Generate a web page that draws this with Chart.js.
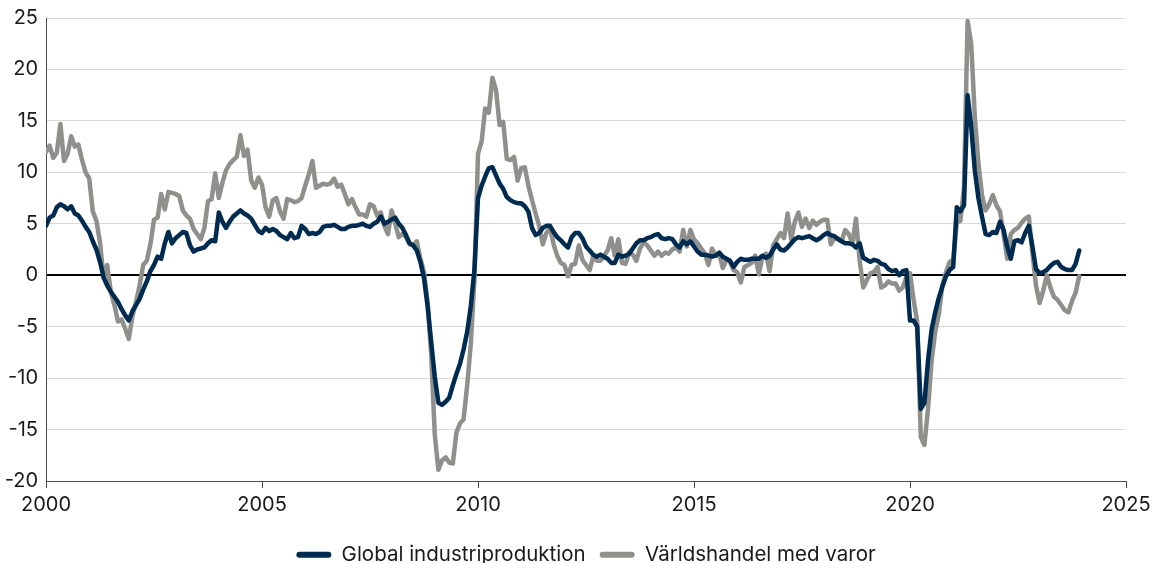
<!DOCTYPE html>
<html lang="sv">
<head>
<meta charset="utf-8">
<title>Global industriproduktion och världshandel med varor</title>
<script src="https://cdn.jsdelivr.net/npm/chart.js@4.4.1/dist/chart.umd.min.js"></script>
<style>
  html, body { margin: 0; padding: 0; background: #fff; }
  #wrap { width: 1151px; height: 563px; }
</style>
</head>
<body>
<div id="wrap"><canvas id="chart-1"></canvas></div>
<script>
// monthly values, Jan 2000 - Dec 2023
const startYear = 2000;
const xTicks = [2000, 2005, 2010, 2015, 2020, 2025];
const yTicks = [-20, -15, -10, -5, 0, 5, 10, 15, 20, 25];

const industriproduktion = [
  4.8, 5.6, 5.8, 6.6, 6.9, 6.7, 6.4, 6.7, 6.0, 5.8, 5.3, 4.7,          // 2000
  4.2, 3.3, 2.5, 1.3, -0.2, -1.0, -1.6, -2.1, -2.6, -3.3, -3.9, -4.4,  // 2001
  -3.5, -2.9, -2.3, -1.4, -0.6, 0.4, 1.0, 1.8, 1.6, 3.1, 4.2, 3.1,     // 2002
  3.6, 3.9, 4.2, 4.1, 2.9, 2.3, 2.5, 2.6, 2.7, 3.1, 3.4, 3.3,          // 2003
  6.1, 5.2, 4.6, 5.2, 5.7, 6.0, 6.3, 6.0, 5.8, 5.5, 4.9, 4.3,          // 2004
  4.1, 4.6, 4.3, 4.5, 4.3, 3.9, 3.7, 3.5, 4.1, 3.6, 3.7, 4.8,          // 2005
  4.5, 4.0, 4.1, 4.0, 4.2, 4.7, 4.8, 4.8, 4.9, 4.7, 4.5, 4.5,          // 2006
  4.7, 4.8, 4.8, 4.9, 5.0, 4.8, 4.7, 5.0, 5.2, 5.7, 5.0, 5.2,          // 2007
  5.4, 5.6, 5.0, 4.6, 3.9, 3.1, 2.9, 2.4, 1.3, -0.3, -3.0, -6.5,       // 2008
  -9.9, -12.4, -12.6, -12.3, -11.9, -10.7, -9.6, -8.6, -7.2, -5.5, -3.0, 0.5, // 2009
  7.5, 8.7, 9.6, 10.4, 10.5, 9.7, 8.9, 8.4, 7.6, 7.3, 7.1, 7.0,        // 2010
  7.0, 6.7, 6.2, 4.6, 3.9, 4.1, 4.6, 4.8, 4.8, 4.2, 3.7, 3.4,          // 2011
  3.0, 2.7, 3.7, 4.1, 4.1, 3.6, 2.8, 2.4, 2.0, 1.8, 2.0, 1.8,          // 2012
  1.6, 1.2, 1.2, 2.0, 1.8, 1.9, 2.1, 2.6, 3.1, 3.4, 3.4, 3.6,          // 2013
  3.7, 3.9, 4.0, 3.6, 3.5, 3.6, 3.5, 3.0, 2.7, 3.3, 3.0, 3.3,          // 2014
  2.8, 2.3, 2.0, 2.0, 1.9, 1.8, 1.9, 2.2, 1.8, 1.6, 1.4, 0.8,          // 2015
  1.3, 1.6, 1.5, 1.5, 1.6, 1.6, 1.6, 1.9, 1.7, 1.9, 2.5, 3.0,          // 2016
  2.5, 2.4, 2.7, 3.1, 3.5, 3.7, 3.6, 3.7, 3.8, 3.6, 3.4, 3.6,          // 2017
  3.9, 4.1, 3.9, 3.8, 3.5, 3.3, 3.1, 3.1, 3.0, 2.7, 3.1, 1.7,          // 2018
  1.5, 1.3, 1.5, 1.4, 1.1, 1.0, 0.6, 0.4, 0.5, 0.0, 0.4, 0.5,          // 2019
  -4.4, -4.4, -5.0, -13.0, -12.4, -8.3, -5.3, -3.6, -2.2, -1.1, -0.1, 0.5, // 2020
  0.8, 6.6, 6.2, 6.8, 17.5, 14.5, 10.2, 7.5, 5.7, 4.0, 3.9, 4.2,       // 2021
  4.1, 5.2, 4.4, 2.8, 1.6, 3.3, 3.4, 3.2, 4.1, 4.8, 2.8, 0.6,          // 2022
  0.2, 0.3, 0.5, 0.9, 1.2, 1.3, 0.8, 0.6, 0.5, 0.5, 1.1, 2.4           // 2023
];

const varldshandel = [
  12.0, 12.6, 11.4, 11.9, 14.7, 11.1, 11.8, 13.5, 12.5, 12.7, 11.2, 10.0,   // 2000
  9.4, 6.2, 5.3, 3.2, -0.3, 1.0, -1.6, -2.9, -4.5, -4.3, -5.2, -6.2,       // 2001
  -4.0, -2.6, -1.0, 1.0, 1.4, 3.0, 5.4, 5.6, 7.9, 6.4, 8.1, 8.0,           // 2002
  7.9, 7.7, 6.3, 5.8, 5.5, 4.5, 4.0, 3.5, 4.6, 7.2, 7.4, 9.9,              // 2003
  7.5, 9.0, 10.2, 10.8, 11.2, 11.5, 13.6, 11.6, 12.2, 9.2, 8.5, 9.5,       // 2004
  8.8, 6.6, 5.7, 7.3, 7.5, 6.2, 5.5, 7.4, 7.3, 7.1, 7.2, 7.5,              // 2005
  8.7, 9.8, 11.1, 8.5, 8.7, 8.9, 8.8, 8.9, 9.4, 8.6, 8.8, 7.9,             // 2006
  6.9, 7.4, 6.6, 5.9, 5.9, 5.7, 6.9, 6.7, 5.8, 6.1, 4.8, 4.0,              // 2007
  6.3, 5.0, 3.7, 4.0, 3.7, 3.0, 2.9, 3.3, 1.6, 0.3, -2.6, -7.7,            // 2008
  -15.5, -18.9, -18.0, -17.7, -18.2, -18.3, -15.3, -14.4, -14.0, -10.7, -6.7, -0.5, // 2009
  11.8, 13.0, 16.2, 15.8, 19.2, 18.0, 14.6, 14.9, 11.3, 11.2, 11.5, 9.2,   // 2010
  10.4, 10.5, 8.7, 7.3, 6.0, 4.8, 3.0, 4.1, 4.6, 3.0, 1.9, 1.2,            // 2011
  1.0, -0.1, 1.0, 1.1, 2.9, 1.5, 1.0, 0.5, 1.8, 1.4, 1.4, 1.9,             // 2012
  2.4, 3.6, 1.9, 3.5, 1.2, 1.1, 2.2, 2.0, 1.4, 2.6, 3.2, 2.9,              // 2013
  2.4, 1.9, 2.3, 1.9, 2.2, 2.1, 2.5, 2.7, 2.3, 4.4, 2.8, 4.4,              // 2014
  3.5, 3.1, 2.6, 2.1, 1.0, 2.6, 1.9, 2.1, 0.7, 1.5, 1.3, 0.5,              // 2015
  0.3, -0.7, 0.8, 1.0, 1.2, 1.9, 0.1, 1.8, 2.1, 0.4, 2.9, 3.5,             // 2016
  4.1, 3.6, 6.0, 3.5, 5.2, 6.1, 4.7, 5.5, 4.6, 5.3, 4.9, 5.2,              // 2017
  5.4, 5.4, 3.0, 3.6, 3.6, 3.3, 4.4, 4.0, 3.1, 5.5, 1.5, -1.2,             // 2018
  -0.5, 0.2, 0.3, 0.8, -1.2, -1.0, -0.6, -0.8, -0.8, -1.5, -1.2, -0.2,     // 2019
  0.2, -2.4, -4.5, -15.7, -16.5, -13.0, -8.3, -5.5, -3.8, -1.0, 0.3, 1.3,  // 2020
  1.5, 5.1, 5.3, 8.5, 24.7, 22.5, 15.4, 10.9, 7.8, 6.3, 6.9, 7.8,          // 2021
  6.8, 6.2, 4.0, 1.6, 4.0, 4.4, 4.6, 5.1, 5.5, 5.7, 2.2, -1.0,             // 2022
  -2.7, -1.5, 0.0, -1.2, -2.1, -2.4, -2.9, -3.4, -3.6, -2.5, -1.7, -0.1    // 2023
];

const navy = "#002b51";
const grey = "#8f8f8b";
const textColor = "#1a1a1a";
const fontFamily = "Inter, 'Noto Sans', sans-serif";

function toPoints(values) {
  return values.map((v, i) => ({ x: startYear + i / 12, y: v }));
}

const ctx1 = document.getElementById("chart-1").getContext("2d");
const myChart = new Chart(ctx1, {
  type: "line",
  data: {
    datasets: [
      {
        label: "Global industriproduktion",
        data: toPoints(industriproduktion),
        borderColor: navy,
        backgroundColor: navy,
      },
      {
        label: "Världshandel med varor",
        data: toPoints(varldshandel),
        borderColor: grey,
        backgroundColor: grey,
      },
    ],
  },
  options: {
    responsive: true,
    maintainAspectRatio: false,
    animation: false,
    devicePixelRatio: 1,
    layout: { padding: { left: 0, right: 25, top: 18, bottom: -12 } },
    elements: {
      point: { radius: 0 },
      line: { borderWidth: 4.5, tension: 0, borderJoinStyle: "round", borderCapStyle: "round" },
    },
    plugins: {
      tooltip: { enabled: false },
      legend: {
        position: "bottom",
        fullSize: false,
        labels: {
          color: textColor,
          font: { family: fontFamily, size: 20.5 },
          boxWidth: 35,
          boxHeight: 6,
          padding: 14,
          generateLabels: (chart) =>
            chart.data.datasets.map((d, i) => ({
              text: d.label,
              fillStyle: d.borderColor,
              strokeStyle: d.borderColor,
              lineWidth: 0,
              borderRadius: 3,
              fontColor: textColor,
              hidden: false,
              datasetIndex: i,
            })),
        },
      },
    },
    scales: {
      x: {
        type: "linear",
        min: 2000,
        max: 2025,
        afterBuildTicks: (s) => { s.ticks = xTicks.map((v) => ({ value: v })); },
        afterFit: (s) => { s.height = 49.5; s.paddingLeft = 0; s.paddingRight = 0; },
        ticks: {
          color: textColor,
          font: { family: fontFamily, size: 20 },
          padding: 5,
          maxRotation: 0,
          callback: (v) => String(v),
        },
        grid: { drawOnChartArea: false, drawTicks: true, tickLength: 7, color: "#4d4d4d" },
        border: { display: true, color: "#4d4d4d", width: 1 },
      },
      y: {
        min: -20,
        max: 25,
        afterBuildTicks: (s) => { s.ticks = yTicks.map((v) => ({ value: v })); },
        afterFit: (s) => { s.width = 46; s.paddingTop = 0; s.paddingBottom = 0; },
        ticks: {
          color: textColor,
          font: { family: fontFamily, size: 20 },
          padding: 8,
          callback: (v) => String(v),
        },
        grid: {
          drawTicks: false,
          color: (c) => (c.tick && c.tick.value === 0 ? "#000000" : "#d9d9d9"),
          lineWidth: (c) => (c.tick && c.tick.value === 0 ? 2 : 1),
        },
        border: { display: true, color: "#4d4d4d", width: 1 },
      },
    },
  },
});
</script>
</body>
</html>
